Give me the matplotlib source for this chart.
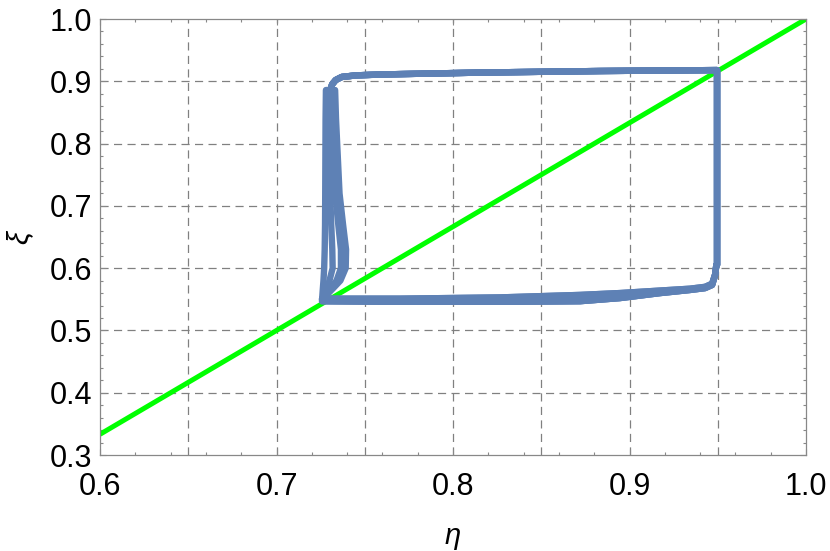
import matplotlib.pyplot as plt
from matplotlib.ticker import MultipleLocator, FormatStrFormatter

# diagonal reference line
line_eta = [0.6, 1.0]
line_xi = [0.3333, 1.0]

# bottom branch of the loop (two slightly different passes)
bottom_eta = [0.7258, 0.770, 0.8266, 0.872, 0.8946, 0.9173, 0.9343, 0.9428, 0.9468, 0.9485, 0.9492]
bottom_xi_lo = [0.547, 0.546, 0.546, 0.547, 0.552, 0.560, 0.565, 0.568, 0.573, 0.589, 0.605]
bottom_xi_hi = [0.551, 0.551, 0.553, 0.557, 0.560, 0.564, 0.567, 0.570, 0.575, 0.590, 0.605]

# right jump and top branch
top_eta = [0.9496, 0.9496, 0.8833, 0.8153, 0.760, 0.745, 0.737, 0.7335, 0.7315, 0.7305]
top_xi = [0.605, 0.918, 0.9165, 0.914, 0.911, 0.9095, 0.907, 0.902, 0.895, 0.886]

# left branch, one per cycle
left_xi = [0.886, 0.84, 0.78, 0.72, 0.67, 0.63, 0.60, 0.58, 0.565, 0.549]
left_eta_1 = [0.7280, 0.7278, 0.7277, 0.7276, 0.7275, 0.7273, 0.7270, 0.7266, 0.7262, 0.7258]
left_eta_2 = [0.7298, 0.7298, 0.7300, 0.7304, 0.7310, 0.7316, 0.7318, 0.7300, 0.7280, 0.7258]
left_eta_3 = [0.7315, 0.7318, 0.7322, 0.7332, 0.7350, 0.7365, 0.7365, 0.7340, 0.7298, 0.7258]
left_eta_4 = [0.7325, 0.7328, 0.7335, 0.7345, 0.7365, 0.7382, 0.7382, 0.7352, 0.7305, 0.7258]
left_eta_5 = [0.7332, 0.7337, 0.7347, 0.7357, 0.7377, 0.7394, 0.7392, 0.7362, 0.7312, 0.7258]

blue = '#5E81B5'
green = '#00FF00'
font = 'Liberation Sans'

fig, ax = plt.subplots(figsize=(8.3, 5.51), dpi=100)
fig.subplots_adjust(left=0.1205, right=0.9711, bottom=0.1742, top=0.9655)

# dashed grid
for g in [0.65, 0.7, 0.75, 0.8, 0.85, 0.9, 0.95]:
    ax.axvline(g, color='#808080', lw=0.9, ls=(0, (6.5, 4.3)), zorder=1)
for g in [0.4, 0.5, 0.6, 0.7, 0.8, 0.9]:
    ax.axhline(g, color='#808080', lw=0.9, ls=(0, (6.5, 4.3)), zorder=1)

ax.plot(line_eta, line_xi, color=green, lw=3.6, zorder=2, solid_capstyle='butt')

cycles = [(bottom_xi_lo, left_eta_1), (bottom_xi_hi, left_eta_2),
          (bottom_xi_lo, left_eta_3), (bottom_xi_hi, left_eta_4),
          (bottom_xi_lo, left_eta_5)]
for bxi, leta in cycles:
    eta = bottom_eta + top_eta + leta
    xi = bxi + top_xi + left_xi
    ax.plot(eta, xi, color=blue, lw=4.6, zorder=3,
            solid_joinstyle='round', solid_capstyle='round')

ax.set_xlim(0.6, 1.0)
ax.set_ylim(0.3, 1.0)
ax.xaxis.set_major_locator(MultipleLocator(0.1))
ax.xaxis.set_minor_locator(MultipleLocator(0.02))
ax.yaxis.set_major_locator(MultipleLocator(0.1))
ax.yaxis.set_minor_locator(MultipleLocator(0.02))
ax.xaxis.set_major_formatter(FormatStrFormatter('%.1f'))
ax.yaxis.set_major_formatter(FormatStrFormatter('%.1f'))

ax.tick_params(which='both', direction='in', top=True, right=True,
               color='#888888', width=0.8)
ax.tick_params(which='major', length=4.3)
ax.tick_params(which='minor', length=2.5)
ax.tick_params(axis='x', pad=12)
ax.tick_params(axis='y', pad=5.8)
for lab in ax.get_xticklabels() + ax.get_yticklabels():
    lab.set_fontfamily(font)
    lab.set_fontsize(22)

for s in ax.spines.values():
    s.set_color('#888888')
    s.set_linewidth(0.9)

ax.set_xlabel('η', fontfamily=font, fontstyle='italic', fontsize=21)
ax.set_ylabel('ξ', fontfamily=font, fontstyle='italic', fontsize=21)
ax.xaxis.set_label_coords(0.5, -0.153)
ax.yaxis.set_label_coords(-0.094, 0.5)

fig.savefig('out.png', dpi=100)
